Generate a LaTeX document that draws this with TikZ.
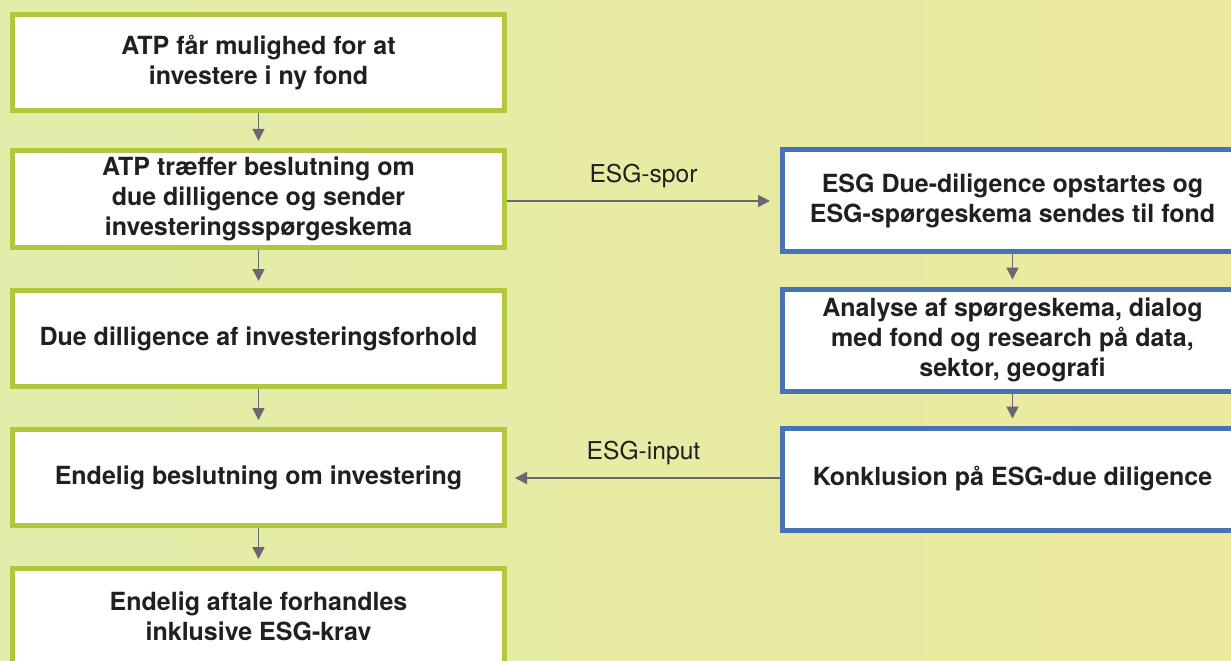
\documentclass[tikz,border=0pt]{standalone}
\usepackage{fontspec}
\setmainfont{TeX Gyre Heros}
\usetikzlibrary{arrows.meta}
\definecolor{atpgreen}{RGB}{178,198,62}
\definecolor{esgblue}{RGB}{70,114,184}
\definecolor{flowgray}{RGB}{103,104,112}
\definecolor{textdark}{RGB}{35,31,32}
\definecolor{bgleft}{RGB}{226,237,170}
\definecolor{bgmid}{RGB}{238,238,164}
\definecolor{bgright}{RGB}{236,233,158}
\newcommand{\boxfont}{\bfseries\fontsize{12.5}{15}\selectfont}

\begin{document}
\begin{tikzpicture}[x=0.5pt, y=-0.5pt,
	every node/.style={font=\fontsize{12.3}{14.6}\selectfont, text=textdark},
	>={Triangle[length=6pt, width=6pt]},
	atpbox/.style={draw=atpgreen, line width=2.5pt, fill=white, minimum width=246pt, minimum height=48pt, align=center, font=\boxfont},
	esgbox/.style={draw=esgblue, line width=2.5pt, fill=white, minimum width=230pt, minimum height=51pt, align=center, font=\boxfont},
	flow/.style={->, flowgray, line width=0.8pt}]
	\useasboundingbox (0,0) rectangle (1231,660);
	\clip (0,0) rectangle (1231,660);
	\shade[left color=bgleft, middle color=bgmid, right color=bgright] (0,0) rectangle (1231,660);
	% ATP track
	\node[atpbox] (mulighed) at (258.5,62.5) {ATP får mulighed for at\\investere i ny fond};
	\node[atpbox] (beslutning) at (258.5,199) {ATP træffer beslutning om\\due dilligence og sender\\investeringsspørgeskema};
	\node[atpbox] (forhold) at (258.5,338.5) {Due dilligence af investeringsforhold};
	\node[atpbox] (endelig) at (258.5,477.5) {Endelig beslutning om investering};
	\node[atpbox] (aftale) at (258.5,616.5) {Endelig aftale forhandles\\inklusive ESG-krav};
	% ESG track
	\node[esgbox] (opstart) at (1012.5,200.5) {ESG Due-diligence opstartes og\\ESG-spørgeskema sendes til fond};
	\node[esgbox] (analyse) at (1012.5,340) {Analyse af spørgeskema, dialog\\med fond og research på data,\\sektor, geografi};
	\node[esgbox] (konklusion) at (1012.5,479) {Konklusion på ESG-due diligence};
	\draw[flow, shorten >=3.5pt] (mulighed) -- (beslutning);
	\draw[flow, shorten >=3.5pt] (beslutning) -- (forhold);
	\draw[flow, shorten >=3.5pt] (forhold) -- (endelig);
	\draw[flow, shorten >=3.5pt] (endelig) -- (aftale);
	\draw[flow, shorten >=3.5pt] (opstart) -- (analyse);
	\draw[flow, shorten >=3.5pt] (analyse) -- (konklusion);
	\draw[flow, shorten >=5pt] (beslutning.east |- 0,201) -- node[above=3pt] (spor) {ESG-spor} (opstart.west |- 0,201);
	\draw[flow, shorten >=4pt] (konklusion.west |- 0,478) -- node[above=3pt] (input) {ESG-input} (endelig.east |- 0,478);
\end{tikzpicture}
\end{document}
